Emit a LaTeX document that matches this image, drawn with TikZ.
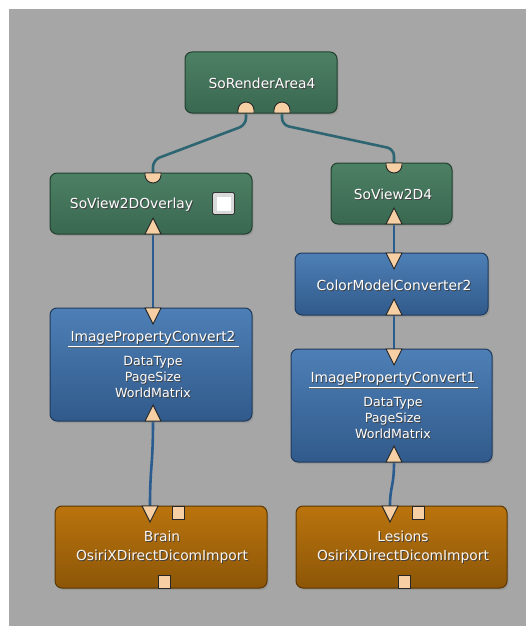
\documentclass[tikz,border=0pt]{standalone}
\usepackage{fontspec}
\setmainfont{DejaVu Sans}
\usetikzlibrary{shadows,calc}
\definecolor{bg}{HTML}{A6A6A6}
\definecolor{gtop}{HTML}{4C8064}
\definecolor{gbot}{HTML}{3A6851}
\definecolor{gline}{HTML}{22402F}
\definecolor{btop}{HTML}{4D7FB6}
\definecolor{bbot}{HTML}{315A8B}
\definecolor{bline}{HTML}{1E3A5C}
\definecolor{otop}{HTML}{BA740E}
\definecolor{obot}{HTML}{8C5607}
\definecolor{oline}{HTML}{5A3603}
\definecolor{portfill}{HTML}{F6D0A4}
\definecolor{gconncol}{HTML}{2D6672}
\definecolor{bconncol}{HTML}{2B5C8F}
\newcommand\sh[1]{\leavevmode\rlap{\kern0.9pt\raisebox{-1pt}{\textcolor{black!75}{#1}}}#1}
\tikzset{
  box/.style={rounded corners=7pt, line width=1pt, inner sep=0pt,
    drop shadow={shadow xshift=1.5pt, shadow yshift=-2pt, opacity=0.35}},
  greenbox/.style={box, draw=gline, top color=gtop, bottom color=gbot},
  bluebox/.style={box, draw=bline, top color=btop, bottom color=bbot},
  orangebox/.style={box, draw=oline, top color=otop, bottom color=obot},
  title/.style={text=white, font=\fontsize{13.8}{16}\selectfont, inner sep=0pt, align=center},
  sub/.style={text=white, font=\fontsize{12.6}{16}\selectfont, inner sep=0pt, align=center},
  otitle/.style={text=white!92!orange, font=\fontsize{13.8}{19}\selectfont, inner sep=0pt, align=center},
  port/.style={draw=black!85, line width=0.9pt, fill=portfill},
  gconn/.style={draw=gconncol, line width=2.6pt, rounded corners=7pt},
  bconn/.style={draw=bconncol, line width=2.6pt},
  intri/.pic={\draw[port] (-8,0) -- (8,0) -- (0,16) -- cycle;},
  outtri/.pic={\draw[port] (-8,0) -- (8,0) -- (0,-16) -- cycle;},
  insemi/.pic={\draw[port] (-8,0) -- (-8,2) arc[start angle=180, end angle=0, radius=8] -- (8,0) -- cycle;},
  outsemi/.pic={\draw[port] (-8,0) -- (-8,-3) arc[start angle=180, end angle=360, radius=8] -- (8,0) -- cycle;},
  topsq/.pic={\draw[port] (-6,0) rectangle (6,13);},
  botsq/.pic={\draw[port] (-6,0) rectangle (6,-13);},
}
\begin{document}
\begin{tikzpicture}[x=1pt,y=-1pt]
\useasboundingbox (0,0) rectangle (526,626);
\fill[bg] (9,9) rectangle (526,626);

% port coordinates
\coordinate (ra1) at (246,113);
\coordinate (ra2) at (282,113);
\coordinate (ovin) at (153,173);
\coordinate (ovout) at (153,234);
\coordinate (v4in) at (394,163);
\coordinate (v4out) at (394,224);
\coordinate (cmin) at (394,253);
\coordinate (cmout) at (394,315);
\coordinate (ip2in) at (153,308);
\coordinate (ip2out) at (153,421);
\coordinate (ip1in) at (394,349);
\coordinate (ip1out) at (394,462);
\coordinate (brin) at (150,506);
\coordinate (lein) at (390,506);

% connectors
\draw[gconn] (ra1) -- ++(0,12) -- ($(ovin)+(0,-13)$) -- (ovin);
\draw[gconn] (ra2) -- ++(0,12) -- ($(v4in)+(0,-14)$) -- (v4in);
\draw[bconn] (ovout) -- (ip2in);
\draw[bconn] (v4out) -- (cmin);
\draw[bconn] (cmout) -- (ip1in);
\draw[bconn] (ip2out) .. controls +(0,45) and +(0,-40) .. (brin);
\draw[bconn] (ip1out) .. controls +(0,25) and +(0,-20) .. (lein);

% boxes
\node[greenbox, minimum width=152, minimum height=61] (ra) at (261,82.5) {};
\node[greenbox, minimum width=202, minimum height=61] (ov) at (151,203.5) {};
\node[greenbox, minimum width=121, minimum height=61] (v4) at (391.5,193.5) {};
\node[bluebox, minimum width=193, minimum height=62] (cm) at (391.5,284) {};
\node[bluebox, minimum width=202, minimum height=113] (ip2) at (151,364.5) {};
\node[bluebox, minimum width=201, minimum height=113] (ip1) at (391.5,405.5) {};
\node[orangebox, minimum width=212, minimum height=82] (br) at (161,547) {};
\node[orangebox, minimum width=211, minimum height=82] (le) at (401.5,547) {};

% labels
\node[title] (rat) at (262,83.5) {\sh{SoRenderArea4}};
\node[title] (ovt) at (131.5,205) {\sh{SoView2DOverlay}};
\node[title] (v4t) at (393,195) {\sh{SoView2D4}};
\node[title] (cmt) at (394,285.5) {\sh{ColorModelConverter2}};
\node[title] (ip2t) at (153,338.5) {\sh{ImagePropertyConvert2}};
\node[sub] (ip2d) at (153,377) {\sh{DataType}\\\sh{PageSize}\\\sh{WorldMatrix}};
\node[title] (ip1t) at (393,379) {\sh{ImagePropertyConvert1}};
\node[sub] (ip1d) at (393,418) {\sh{DataType}\\\sh{PageSize}\\\sh{WorldMatrix}};
\node[otitle] (brt) at (162,548) {\sh{Brain}\\\sh{OsiriXDirectDicomImport}};
\node[otitle] (let) at (403,548) {\sh{Lesions}\\\sh{OsiriXDirectDicomImport}};

% underlines
\draw[black!60, line width=1.1pt] ($(ip2.north west)+(19,40)$) -- ($(ip2.north east)+(-13,40)$);
\draw[white, line width=1.1pt] ($(ip2.north west)+(18,39)$) -- ($(ip2.north east)+(-14,39)$);
\draw[black!60, line width=1.1pt] ($(ip1.north west)+(19,40)$) -- ($(ip1.north east)+(-14,40)$);
\draw[white, line width=1.1pt] ($(ip1.north west)+(18,39)$) -- ($(ip1.north east)+(-15,39)$);

% checkbox
\draw[fill=black!15, draw=black!80, line width=0.9pt, rounded corners=1.5pt] ($(ov.north west)+(163,20)$) rectangle ($(ov.north west)+(185,42)$);
\fill[white] ($(ov.north west)+(167,24)$) rectangle ($(ov.north west)+(181,38)$);

% ports
\pic at (ra1) {outsemi};
\pic at (ra2) {outsemi};
\pic at (ovin) {insemi};
\pic at (v4in) {insemi};
\pic at (ovout) {outtri};
\pic at (v4out) {outtri};
\pic at (cmin) {intri};
\pic at (cmout) {outtri};
\pic at (ip2in) {intri};
\pic at (ip2out) {outtri};
\pic at (ip1in) {intri};
\pic at (ip1out) {outtri};
\pic at (brin) {intri};
\pic at (lein) {intri};
\pic at (178,506) {topsq};
\pic at (418,506) {topsq};
\pic at (164,588) {botsq};
\pic at (404,588) {botsq};
\end{tikzpicture}
\end{document}
